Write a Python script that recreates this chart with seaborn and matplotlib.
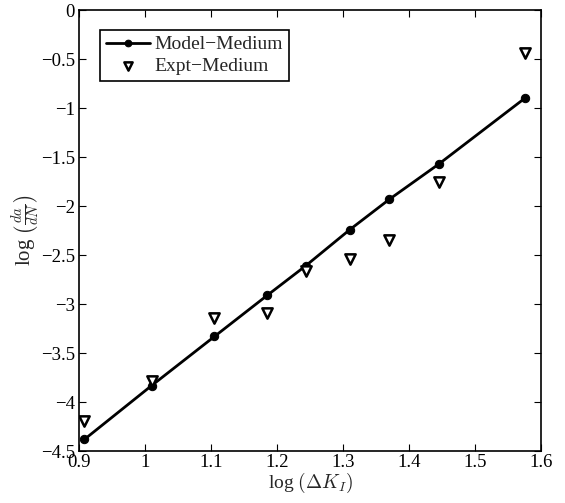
import numpy as np
import pandas as pd
import matplotlib
matplotlib.use("Agg")
import matplotlib.pyplot as plt
import seaborn as sns

# data
log_dk = [0.908, 1.01, 1.105, 1.185, 1.243, 1.31, 1.37, 1.445, 1.575]
model_medium = [-4.38, -3.83, -3.33, -2.91, -2.61, -2.24, -1.93, -1.57, -0.90]
expt_medium = [-4.19, -3.78, -3.14, -3.09, -2.66, -2.54, -2.35, -1.75, -0.44]

sns.set_style("ticks")
plt.rcParams["font.family"] = ["Liberation Serif", "DejaVu Serif"]
plt.rcParams["mathtext.fontset"] = "cm"
plt.rcParams["axes.unicode_minus"] = True


def main():
    df = pd.DataFrame({"x": log_dk, "model": model_medium, "expt": expt_medium})

    fig = plt.figure(figsize=(5.65, 5.03), dpi=100)
    ax = fig.add_axes([0.140, 0.103, 0.818, 0.877])

    sns.lineplot(data=df, x="x", y="model", ax=ax, color="black", lw=2,
                 marker="o", markersize=6, markeredgecolor="black",
                 label="Model\u2212Medium")
    sns.scatterplot(data=df, x="x", y="expt", ax=ax, marker="v", s=55,
                    facecolor="white", edgecolor="black", linewidth=1.8,
                    label="Expt\u2212Medium", zorder=3)

    ax.set_xlim(0.9, 1.6)
    ax.set_ylim(-4.5, 0)
    ax.set_xticks(np.arange(0.9, 1.61, 0.1))
    ax.set_xticklabels(["0.9", "1", "1.1", "1.2", "1.3", "1.4", "1.5", "1.6"])
    ax.set_yticks(np.arange(-4.5, 0.01, 0.5))
    ax.set_yticklabels(["\u22124.5", "\u22124", "\u22123.5", "\u22123", "\u22122.5",
                        "\u22122", "\u22121.5", "\u22121", "\u22120.5", "0"])
    ax.tick_params(direction="in", top=True, right=True, length=5, width=0.8,
                   labelsize=13.5, colors="black", pad=3)
    ax.tick_params(axis="x", pad=2)
    for s in ax.spines.values():
        s.set_linewidth(1.2)
        s.set_color("black")

    ax.set_xlabel(r"log $(\Delta K_I)$", fontsize=14, labelpad=0)
    ax.set_ylabel(r"log $\left(\frac{da}{dN}\right)$", fontsize=15, labelpad=-1)

    leg = ax.legend(loc="upper left", bbox_to_anchor=(0.045, 0.955), fontsize=14,
                    frameon=True, fancybox=False, edgecolor="black",
                    handlelength=2.3, handletextpad=0.2, borderpad=0.3,
                    labelspacing=0.2, borderaxespad=0.0, markerscale=0.8)
    leg.get_frame().set_linewidth(1.2)
    leg.get_frame().set_alpha(1)

    fig.savefig("out.png", dpi=100)


if __name__ == "__main__":
    main()
